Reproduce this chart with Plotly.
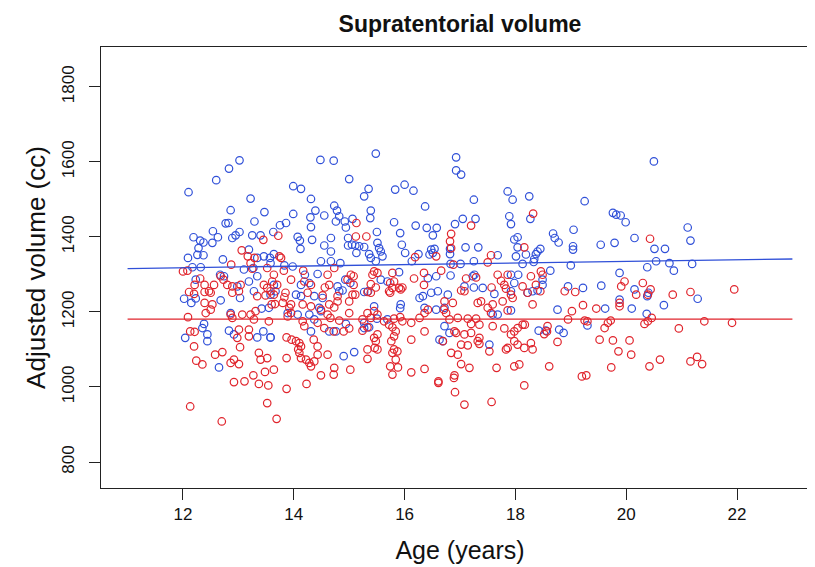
import plotly.graph_objects as go

# ---- data ----
blue_age = [
    13.02, 12.83, 12.60, 12.10, 13.22, 12.86, 13.47, 12.77, 12.82, 13.29, 12.54, 13.02, 12.95, 12.89, 12.63,
    12.19, 12.31, 12.37, 12.53, 13.25, 13.40, 13.63, 12.28, 12.26, 12.37, 12.09, 12.72, 13.19, 13.34, 13.46,
    13.57, 13.64, 12.17, 12.32, 13.10, 13.27, 13.34, 13.19, 12.23, 12.67, 12.74, 12.98, 13.28, 13.58, 13.64,
    12.02, 12.15, 12.23, 12.68, 13.03, 13.42, 13.55, 12.86, 12.38, 12.35, 12.44, 12.44, 12.04, 12.83, 12.92,
    13.45, 13.34, 13.58, 12.65,
    14.48, 14.72, 15.48, 15.00, 13.99, 14.13, 14.31, 15.35, 15.27, 15.83, 16.00, 16.16, 16.37, 14.39, 14.73,
    14.78, 13.99, 14.30, 14.55, 14.82, 14.92, 14.76, 15.39, 15.38, 14.31, 13.75, 13.86, 15.06, 14.94, 15.81,
    16.20, 14.07, 14.11, 14.12, 14.33, 14.67, 14.55, 14.67, 14.98, 15.05, 14.98, 15.11, 15.18, 15.27, 15.13,
    15.50, 15.51, 15.54, 15.57, 15.60, 15.36, 15.39, 15.48, 15.92, 15.95, 16.01, 16.13, 16.25, 16.40, 14.49,
    14.67, 14.84, 13.98, 13.83, 14.20, 14.43, 14.28, 14.13, 14.79, 14.93, 15.02, 15.57, 15.69, 15.90, 13.58,
    13.67, 14.04, 14.13, 14.37, 14.52, 14.82, 14.88, 15.27, 15.34, 15.45, 15.93, 15.92, 13.89, 14.07, 14.28,
    14.37, 14.49, 14.46, 14.31, 14.64, 14.76, 14.94, 15.27, 15.36, 15.27, 15.50, 15.69, 13.58, 14.90, 15.09,
    16.27, 16.33, 16.36,
    16.93, 16.93, 17.02, 17.86, 17.95, 18.25, 17.25, 17.05, 17.28, 17.89, 17.92, 18.27, 18.68, 18.71, 18.78,
    16.58, 16.51, 16.91, 17.98, 18.04, 18.04, 17.10, 17.33, 16.48, 16.54, 16.45, 16.51, 16.82, 16.82, 17.68,
    18.01, 18.19, 18.37, 18.34, 18.45, 18.40, 16.83, 17.01, 17.25, 18.13, 18.33, 18.63, 16.42, 16.57, 16.83,
    17.23, 17.26, 17.92, 18.05, 18.49, 18.49, 17.98, 17.08, 17.25,
    16.48, 16.60, 16.78, 17.41, 17.62, 17.92, 18.22, 18.31, 18.40, 16.57, 16.72, 17.59, 17.68, 17.92, 18.76,
    16.72, 16.81, 16.63, 16.69, 17.53, 18.42, 18.55, 18.79, 18.87,
    20.50, 19.25, 19.76, 19.82, 19.90, 19.99, 19.05, 21.11, 21.16, 20.15, 19.54, 19.79, 19.04, 19.04, 20.51,
    20.70, 20.54, 20.78, 20.86, 21.19, 19.00, 20.38, 19.88, 18.95, 19.22, 19.55, 20.15, 20.40, 19.88, 20.38,
    19.62, 20.10, 20.68, 21.29, 20.37, 19.30,
]
blue_vol = [
    1604, 1582, 1551, 1519, 1502, 1471, 1466, 1436, 1437, 1441, 1415, 1413, 1404, 1397, 1399,
    1399, 1390, 1385, 1384, 1404, 1404, 1413, 1370, 1352, 1351, 1344, 1340, 1366, 1344, 1348,
    1344, 1354, 1319, 1319, 1313, 1317, 1295, 1281, 1286, 1299, 1295, 1268, 1255, 1246, 1272,
    1235, 1224, 1236, 1231, 1237, 1209, 1211, 1197, 1168, 1157, 1140, 1122, 1131, 1150, 1140,
    1148, 1132, 1132, 1052,
    1605, 1603, 1622, 1554, 1535, 1528, 1501, 1528, 1508, 1526, 1539, 1523, 1481, 1470, 1483,
    1470, 1461, 1452, 1457, 1455, 1441, 1441, 1470, 1450, 1426, 1431, 1437, 1448, 1425, 1439,
    1430, 1400, 1390, 1368, 1392, 1397, 1377, 1361, 1397, 1379, 1377, 1377, 1375, 1373, 1357,
    1413, 1384, 1370, 1361, 1348, 1354, 1344, 1335, 1410, 1379, 1357, 1335, 1354, 1424, 1335,
    1335, 1330, 1321, 1324, 1299, 1301, 1277, 1272, 1268, 1286, 1277, 1286, 1281, 1306, 1330,
    1255, 1246, 1242, 1242, 1237, 1255, 1257, 1253, 1255, 1215, 1220, 1210, 1197, 1193, 1193,
    1180, 1202, 1211, 1148, 1148, 1148, 1168, 1157, 1159, 1171, 1182, 1180, 1132, 1082, 1093,
    1237, 1242, 1211,
    1612, 1577, 1566, 1521, 1499, 1508, 1499, 1448, 1448, 1455, 1434, 1448, 1409, 1397, 1385,
    1424, 1404, 1434, 1393, 1399, 1372, 1372, 1372, 1366, 1368, 1353, 1357, 1368, 1354, 1351,
    1348, 1353, 1354, 1341, 1368, 1361, 1328, 1328, 1335, 1328, 1333, 1310, 1290, 1295, 1297,
    1295, 1299, 1299, 1299, 1286, 1272, 1277, 1268, 1265,
    1251, 1255, 1246, 1264, 1248, 1255, 1251, 1255, 1257, 1206, 1211, 1193, 1193, 1204, 1206,
    1162, 1144, 1126, 1122, 1113, 1150, 1150, 1153, 1144,
    1601, 1495, 1464, 1459, 1457, 1439, 1419, 1425, 1390, 1397, 1379, 1384, 1375, 1366, 1368,
    1368, 1335, 1330, 1310, 1328, 1324, 1319, 1304, 1268, 1264, 1270, 1260, 1251, 1233, 1242,
    1209, 1209, 1218, 1235, 1195, 1164,
]

red_age = [
    13.06, 13.45, 13.17, 13.29, 12.87, 13.22, 13.25, 12.00, 12.08, 12.31, 12.21, 12.39, 12.56, 12.68, 12.73,
    12.80, 12.89, 13.04, 13.64, 13.46, 13.52,
    12.11, 12.20, 12.39, 12.47, 12.50, 12.89, 13.01, 13.34, 13.49, 13.58, 13.64, 12.39, 12.53, 12.50, 12.41,
    12.09, 12.86, 12.89, 13.07, 13.22, 13.28, 13.31, 13.01, 13.19, 13.55, 12.13, 12.21, 13.19, 12.98, 12.20,
    13.03, 12.24, 12.35, 12.58, 12.71, 12.86, 12.92, 13.01, 13.37, 13.40, 13.64, 13.48, 12.92, 13.11, 13.27,
    13.37, 13.54, 12.13, 13.52, 12.70, 13.69,
    15.13, 15.12, 15.31, 13.72, 16.19, 13.74, 13.77, 13.52, 13.82, 14.17, 14.61, 14.73, 15.03, 15.08, 15.45,
    15.51, 15.42, 15.78, 15.81, 16.17, 16.35, 13.61, 13.70, 13.95, 14.19, 14.31, 14.64, 14.56, 15.08, 14.97,
    15.39, 15.48, 15.74, 15.78, 15.90, 15.96,
    13.85, 13.83, 14.25, 14.52, 14.79, 15.06, 15.33, 15.39, 15.72, 15.74, 15.93, 13.60, 13.66, 13.80, 13.95,
    14.16, 14.31, 14.64, 14.73, 15.00, 15.11, 14.79, 13.92, 13.95, 13.89, 14.49, 14.61, 14.66, 14.82, 15.00,
    15.33, 15.45, 15.51, 15.39, 15.24, 15.81, 15.92, 15.96, 16.12, 16.36, 16.27, 14.16, 14.19, 14.43,
    14.55, 14.72, 14.90, 15.00, 15.24, 15.33, 15.63, 15.72, 15.78, 15.84, 15.81, 15.76, 15.51, 15.45, 15.48,
    15.46, 15.33, 15.51, 13.87, 13.96, 14.04, 14.10, 14.13, 14.08, 14.10, 14.13, 14.22, 14.28, 14.31, 14.37,
    14.43, 14.43, 14.36, 14.61, 14.73, 14.72, 14.49, 14.23, 15.33, 15.02, 15.74, 15.78, 15.81, 15.84, 15.88,
    15.87, 15.78, 16.12, 16.12, 16.36, 13.52, 13.87, 13.87, 16.36,
    18.32, 17.20, 16.84, 16.82, 16.84, 16.57, 18.16, 17.56, 17.50, 16.88, 16.66, 17.68, 17.86, 17.74, 18.28,
    18.46, 18.49, 17.11, 17.29, 17.57, 17.80, 17.83, 18.13, 18.37, 16.35,
    16.42, 16.72, 16.87, 16.71, 16.75, 16.81, 17.02, 17.08, 17.32, 17.38, 17.50, 17.59, 17.56, 17.77, 17.86,
    17.92, 17.95, 18.31, 18.22, 18.45, 18.89, 16.96, 17.14, 17.29, 17.20, 17.35, 17.59, 17.80, 17.98, 18.04,
    18.13, 18.17, 17.92, 18.58, 18.57, 18.52, 16.90, 16.93, 17.08, 17.20, 17.35, 17.32, 16.69, 17.02, 17.14,
    17.35, 17.53, 17.98, 18.04, 18.16, 18.31, 18.28, 17.83, 17.86, 18.76, 16.84, 16.96, 17.02, 17.17, 17.66,
    17.98, 18.07, 18.61, 16.90, 16.89, 16.61, 16.61, 16.91, 17.08, 17.57, 18.16,
    20.43, 19.97, 19.91, 20.30, 19.08, 20.18, 20.39, 20.44, 20.84, 21.16, 21.95, 19.22, 19.46, 19.88, 19.88,
    19.02, 18.95, 19.25, 19.30, 19.67, 19.72, 19.61, 20.33, 20.39, 20.46, 21.41, 21.91, 20.95, 19.52, 19.76,
    20.06, 19.86, 20.09, 19.73, 20.42, 20.61, 21.16, 21.28, 21.37, 19.20, 19.28,
]
red_vol = [
    1364, 1392, 1348, 1344, 1326, 1330, 1315, 1308, 1310, 1289, 1272, 1272, 1272, 1295, 1286,
    1272, 1268, 1272, 1299, 1272, 1264,
    1253, 1248, 1253, 1255, 1251, 1251, 1255, 1242, 1244, 1255, 1246, 1224, 1220, 1206, 1197,
    1186, 1193, 1184, 1193, 1193, 1180, 1202, 1153, 1153, 1175, 1148, 1147, 1135, 1131, 1108,
    1106, 1070, 1060, 1086, 1093, 1064, 1073, 1061, 1091, 1073, 1046, 1040, 1013, 1015, 1031,
    1008, 1004, 948, 957, 908, 915,
    1437, 1401, 1401, 1403, 1346, 1348, 1344, 1317, 1310, 1310, 1299, 1317, 1299, 1295, 1308,
    1304, 1299, 1304, 1281, 1289, 1304, 1281, 1272, 1286, 1281, 1272, 1272, 1265, 1272, 1286,
    1274, 1265, 1277, 1264, 1264, 1265,
    1251, 1239, 1251, 1244, 1242, 1246, 1253, 1251, 1255, 1251, 1260, 1220, 1221, 1224, 1220,
    1220, 1215, 1220, 1212, 1228, 1246, 1228, 1211, 1197, 1188, 1206, 1193, 1184, 1177, 1197,
    1197, 1202, 1193, 1184, 1180, 1182, 1186, 1175, 1171, 1197, 1184, 1175, 1162, 1171,
    1157, 1148, 1148, 1156, 1150, 1159, 1175, 1166, 1159, 1148, 1135, 1122, 1140, 1131, 1122,
    1104, 1100, 1100, 1132, 1126, 1122, 1117, 1108, 1100, 1091, 1077, 1073, 1064, 1055, 1068,
    1086, 1108, 1126, 1086, 1051, 1033, 1031, 1008, 1075, 1046, 1055, 1091, 1100, 1073, 1052,
    1095, 1033, 1126, 1039, 1048, 1077, 1077, 995, 1148,
    1462, 1430, 1408, 1388, 1370, 1348, 1372, 1351, 1332, 1326, 1310, 1299, 1299, 1283, 1295,
    1308, 1299, 1289, 1292, 1265, 1272, 1262, 1268, 1272, 1272,
    1206, 1228, 1224, 1206, 1197, 1180, 1257, 1255, 1224, 1228, 1211, 1220, 1197, 1228, 1204,
    1246, 1237, 1220, 1251, 1255, 1255, 1184, 1182, 1182, 1168, 1166, 1162, 1156, 1148, 1157,
    1166, 1166, 1140, 1162, 1148, 1141, 1148, 1144, 1140, 1144, 1131, 1122, 1122, 1113, 1111,
    1115, 1095, 1122, 1113, 1104, 1100, 1117, 1100, 1104, 1120, 1091, 1086, 1061, 1051, 1051,
    1055, 1060, 1055, 1031, 1024, 1015, 1011, 986, 953, 960, 1004,
    1395, 1281, 1268, 1277, 1253, 1246, 1246, 1260, 1246, 1253, 1260, 1218, 1209, 1215, 1224,
    1202, 1180, 1177, 1175, 1171, 1177, 1157, 1168, 1175, 1184, 1175, 1171, 1156, 1126, 1124,
    1124, 1095, 1086, 1052, 1055, 1073, 1068, 1080, 1061, 1028, 1031,
]

fit_age = [11, 23]
blue_fit = [1315.5, 1341]
red_fit = [1181, 1181]

x_ticks = [12, 14, 16, 18, 20, 22]
y_ticks = [800, 1000, 1200, 1400, 1600, 1800]

BLUE = "#3050d8"
RED = "#e0242c"
FONT = "Liberation Sans, Arial, Helvetica, sans-serif"

fig = go.Figure()
fig.add_trace(go.Scatter(x=blue_age, y=blue_vol, mode="markers",
                         marker=dict(symbol="circle-open", size=7.5, color=BLUE, line=dict(width=1.2, color=BLUE)),
                         hoverinfo="x+y", showlegend=False))
fig.add_trace(go.Scatter(x=red_age, y=red_vol, mode="markers",
                         marker=dict(symbol="circle-open", size=7.5, color=RED, line=dict(width=1.2, color=RED)),
                         hoverinfo="x+y", showlegend=False))
fig.add_trace(go.Scatter(x=fit_age, y=blue_fit, mode="lines", line=dict(color=BLUE, width=1.3),
                         showlegend=False, hoverinfo="skip"))
fig.add_trace(go.Scatter(x=fit_age, y=red_fit, mode="lines", line=dict(color=RED, width=1.3),
                         showlegend=False, hoverinfo="skip"))

fig.update_layout(
    width=815, height=567,
    margin=dict(l=93, r=4, t=39, b=87),
    paper_bgcolor="white", plot_bgcolor="white",
    font=dict(family=FONT, color="#111"),
    title=dict(text="<b>Supratentorial volume</b>", x=(93 + 811) / 2 / 815, xanchor="center",
               y=1 - 16 / 567, yanchor="middle", yref="container",
               font=dict(size=23, family=FONT, color="#111")),
    xaxis=dict(range=[10.52, 23.48], tickvals=x_ticks, ticktext=[str(v) for v in x_ticks],
               showgrid=False, zeroline=False, showline=True, mirror=True, linecolor="#222", linewidth=1,
               ticks="outside", ticklen=11, tickwidth=1, tickcolor="#222",
               tickfont=dict(size=17, family=FONT, color="#111"),
               title=dict(text="Age (years)", font=dict(size=25, family=FONT, color="#111"), standoff=18)),
    yaxis=dict(range=[730.7, 1906], tickvals=y_ticks, ticktext=[str(v) for v in y_ticks],
               showgrid=False, zeroline=False, showline=True, mirror=True, linecolor="#222", linewidth=1,
               ticks="outside", ticklen=11, tickwidth=1, tickcolor="#222", tickangle=-90,
               ticklabelstandoff=8,
               tickfont=dict(size=17, family=FONT, color="#111"),
               title=dict(text="Adjusted volume (cc)", font=dict(size=26, family=FONT, color="#111"), standoff=6)),
)

fig.write_html("out.html")
